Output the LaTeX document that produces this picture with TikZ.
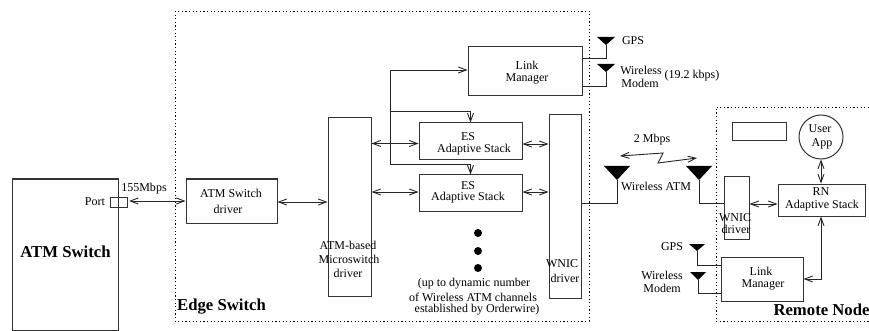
\documentclass[tikz,border=0pt]{standalone}
\usepackage{fontspec}
\setmainfont{Liberation Serif}
\usetikzlibrary{arrows.meta}
\tikzset{
  x=1pt,y=-1pt,
  boxs/.style={draw=black!80,line width=1pt,inner sep=0pt,align=center,font=\fontsize{12}{15}\selectfont},
  txt/.style={inner sep=0pt,align=center,font=\fontsize{12}{14}\selectfont},
  big/.style={inner sep=0pt,font=\fontsize{16.7}{18}\selectfont\bfseries},
  wire/.style={draw=black!85,line width=0.9pt},
  arr/.style={wire,{Straight Barb[length=8pt,width=6pt]}-{Straight Barb[length=8pt,width=6pt]}},
  arrone/.style={wire,-{Straight Barb[length=8pt,width=6pt]}},
  zone/.style={draw,line width=0.9pt,dash pattern=on 1.2pt off 2.4pt},
  dotn/.style={circle,fill=black,inner sep=0pt,minimum size=8pt}
}
\newcommand{\bx}[6]{\node[boxs,minimum width=#4 pt-#2 pt,minimum height=#5 pt-#3 pt] (#1) at ({(#2+#4)/2},{(#3+#5)/2}) {#6};}
\newcommand{\antenna}[5]{% name, apexx, topy, halfwidth, apexy
  \coordinate (#1) at (#2,#5);
  \fill[black] (#2-#4,#3) -- (#2+#4,#3) -- (#1) -- cycle;}
\begin{document}
\begin{tikzpicture}
\useasboundingbox (0,0) rectangle (869,331);
% zones
\draw[zone] (869,107) -- (716,107) -- (716,321) -- (869,321);
\draw[zone] (175,11) rectangle (589,321);
% boxes
\bx{sw}{12}{179}{118}{330}{}
\bx{port}{110}{197}{127}{207}{}
\bx{drv}{186}{179}{277}{223}{}
\bx{mic}{328}{118}{371}{296}{}
\bx{lm}{468}{47}{582}{96}{}
\bx{esa}{419}{123}{522}{160}{}
\bx{esb}{419}{175}{522}{211}{}
\bx{wn}{549}{115}{581}{298}{}
\bx{wnr}{724}{177}{749}{239}{}
\bx{rn}{778}{184}{865}{216}{}
\bx{lmr}{721}{257}{803}{301}{}
\bx{blank}{732}{123}{786}{141}{}
\node[boxs,circle,minimum size=44pt] (app) at (821,137) {};
% labels
\node[big] (t1) at (65.5,252) {ATM Switch};
\node[big] (t2) at (221.5,307) {Edge Switch};
\node[big] (t3) at (821.5,310) {Remote Node};
\node[txt] (t4) at (144,189) {155Mbps};
\node[txt] (t5) at (95,202) {Port};
\node[txt] (t6) at (231,193) {ATM Switch};
\node[txt] (t6b) at (228,209) {driver};
\node[txt] (t7) at (527,65) {Link};
\node[txt] (t7b) at (527,79) {Manager};
\node[txt] (t8) at (468,137) {ES};
\node[txt] (t9) at (474,150) {Adaptive Stack};
\node[txt] (t10) at (468,186) {ES};
\node[txt] (t11) at (468,198) {Adaptive Stack};
\node[txt] (t12) at (348,245) {ATM-based};
\node[txt] (t13) at (349,259) {Microswitch};
\node[txt] (t14) at (348,273) {driver};
\node[txt] (t15) at (474,284) {(up to dynamic number};
\node[txt] (t16) at (473,297) {of Wireless ATM channels};
\node[txt] (t17) at (477,310) {established by Orderwire)};
\node[txt] (t18) at (562,264) {WNIC};
\node[txt] (t19) at (565,278) {driver};
\node[txt] (t20) at (633,41) {GPS};
\node[txt] (t21) at (641,70) {Wireless};
\node[txt] (t22) at (640,83) {Modem};
\node[txt] (t23) at (692,76) {(19.2 kbps)};
\node[txt] (t24) at (656,186) {Wireless ATM};
\node[txt] (t25) at (652,140) {2 Mbps};
\node[txt] (t26) at (735,218) {WNIC};
\node[txt] (t27) at (736,229) {driver};
\node[txt] (t28) at (821,192) {RN};
\node[txt] (t29) at (822,206) {Adaptive Stack};
\node[txt] (t30) at (820,129) {User};
\node[txt] (t31) at (822,144) {App};
\node[txt] (t32) at (761,271) {Link};
\node[txt] (t33) at (763,285) {Manager};
\node[txt] (t34) at (672,247) {GPS};
\node[txt] (t35) at (662,275) {Wireless};
\node[txt] (t36) at (662,288) {Modem};
% dots
\node[dotn] (d1) at (478,233) {};
\node[dotn] (d2) at (478,251) {};
\node[dotn] (d3) at (478,268) {};
% antennas
\antenna{a1}{606}{37}{9}{45}
\antenna{a2}{606}{64}{9}{72}
\antenna{a3}{617}{166}{13}{180}
\antenna{a4}{699}{166}{13}{180}
\antenna{a5}{697}{244}{8}{251}
\antenna{a6}{698}{272}{8}{280}
% connectors
\coordinate (pe) at (129,201);
\coordinate (bus) at (390,70);
\coordinate (busa) at (390,111);
\coordinate (busb) at (390,164);
\draw[arr] (pe) -- (drv.west |- pe);
\draw[arr] (drv.east |- 0,202) -- (mic.west |- 0,202);
\draw[arr] (mic.east |- 0,143.5) -- (esa.west |- 0,143.5);
\draw[arr] (mic.east |- 0,192) -- (esb.west |- 0,192);
\draw[arr] (esa.east |- 0,144) -- (wn.west |- 0,144);
\draw[arr] (esb.east |- 0,192) -- (wn.west |- 0,192);
\draw[arrone] (busb) -- (bus) -- (lm.west |- bus);
\draw[arrone] (busa) -| (esa.north);
\draw[arrone] (busb) -| (esb.north);
\draw[wire] (a1) |- (lm.east |- 0,58);
\draw[wire] (a2) |- (lm.east |- 0,86);
\draw[wire] (a3) |- (wn.east |- 0,203);
\draw[wire] (a4) |- (wnr.west |- 0,203);
\draw[arr] (wnr.east |- 0,204) -- (rn.west |- 0,204);
\draw[arr] (app.south) -- (rn.north -| app.south);
\draw[arr] (rn.south -| app.south) |- (lmr.east |- 0,279);
\draw[wire] (a5) |- (lmr.west |- 0,265);
\draw[wire] (a6) |- (lmr.west |- 0,293);
\coordinate (z1) at (620,156);
\coordinate (z2) at (697,158);
\draw[arr] (z1) -- (663,153) -- (658,163) -- (z2);
\end{tikzpicture}
\end{document}
